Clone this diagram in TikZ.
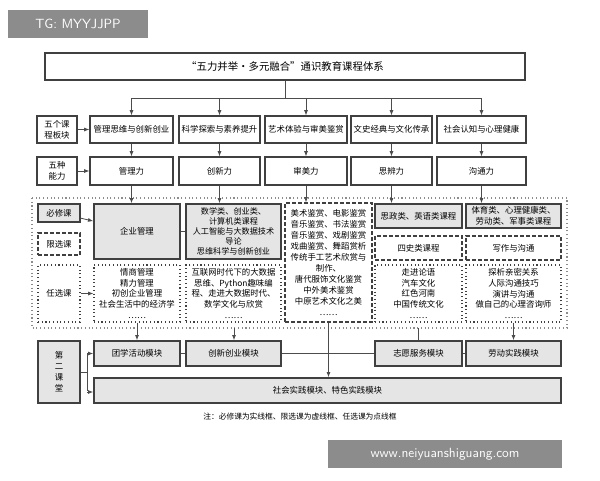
\documentclass[tikz,border=0pt]{standalone}
\usepackage{fontspec}
\setmainfont{Noto Sans CJK SC}
\usetikzlibrary{arrows.meta}
\newcommand\B[7][]{\node[box,#1,minimum width={(#5-#3)*0.75pt},minimum height={(#6-#4)*0.75pt},text width={(#5-#3)*0.75pt-4pt}] (#2) at ({(#3+#5)/2},{(#4+#6)/2}) {#7};}
\begin{document}
\begin{tikzpicture}[x=0.75pt,y=-0.75pt,
 box/.style={draw=black!75,line width=0.8pt,fill=white,align=center,inner sep=1pt,font=\fontsize{6.3}{8.2}\selectfont},
 sol/.style={fill=black!10,line width=1pt},
 dsh/.style={dash pattern=on 3pt off 1.5pt,line width=0.9pt},
 dot/.style={dotted,line width=0.8pt},
 ln/.style={draw=black!70,line width=0.6pt},
 ar/.style={ln,-{Latex[length=4pt,width=3pt]}}]
\useasboundingbox (0,0) rectangle (600,480);
\fill[black!45] (8,10) rectangle (148,38);
\node[text=white,font=\fontsize{10}{12}\selectfont\sffamily] (tg) at (78,24) {TG: MYYJJPP};
\fill[black!45] (328,440) rectangle (562,468);
\node[text=white,font=\fontsize{10}{12}\selectfont\sffamily] (www) at (445,454) {www.neiyuanshiguang.com};
% title
\B{title}{45}{53}{525}{80}{\fontsize{7.8}{9}\selectfont “五力并举•多元融合”通识教育课程体系}
% row1
\B{l1}{37}{116}{77}{143}{五个课\\程板块}
\B{a1}{90}{116}{173}{143}{管理思维与创新创业}
\B{a2}{179}{116}{260}{143}{科学探索与素养提升}
\B{a3}{265}{116}{347}{143}{艺术体验与审美鉴赏}
\B{a4}{351}{116}{432}{143}{文史经典与文化传承}
\B{a5}{437}{116}{526}{143}{社会认知与心理健康}
% row2
\B{l2}{37}{157}{77}{185}{五种\\能力}
\B{b1}{90}{157}{173}{185}{管理力}
\B{b2}{179}{157}{260}{185}{创新力}
\B{b3}{265}{157}{347}{185}{审美力}
\B{b4}{351}{157}{432}{185}{思辨力}
\B{b5}{437}{157}{526}{185}{沟通力}
% big dotted frame
\draw[black!45,dotted,line width=0.8pt] (32,198) rectangle (567,328);
\B[sol]{bx}{38}{204}{80}{222}{必修课}
\B[dsh]{xx}{38}{233}{80}{255}{限选课}
\B[dot]{rx}{38}{265}{80}{322}{任选课}
\B[sol]{c1}{94}{204}{180}{259}{企业管理}
\B[dot]{d1}{94}{265}{180}{322}{情商管理\\精力管理\\初创企业管理\\社会生活中的经济学\\……}
\B[sol,font=\fontsize{6.1}{7.5}\selectfont]{c2}{186}{204}{281}{259}{数学类、创业类、\\计算机类课程\\人工智能与大数据技术\\导论\\思维科学与创新创业}
\B[dot]{d2}{186}{265}{281}{322}{互联网时代下的大数据\\思维、Python趣味编\\程、走进大数据时代、\\数学文化与欣赏\\……}
\B[dsh]{c3}{285}{203}{372}{322}{美术鉴赏、电影鉴赏\\音乐鉴赏、书法鉴赏\\音乐鉴赏、戏剧鉴赏\\戏曲鉴赏、舞蹈赏析\\传统手工艺术欣赏与\\制作、\\唐代服饰文化鉴赏\\中外美术鉴赏\\中原艺术文化之美\\……}
\B[sol]{c4}{375}{204}{462}{228}{思政类、英语类课程}
\B[dsh]{e4}{375}{236}{462}{260}{四史类课程}
\B[dot]{d4}{375}{265}{462}{322}{走进论语\\汽车文化\\红色河南\\中国传统文化\\……}
\B[sol]{c5}{466}{204}{561}{228}{体育类、心理健康类、\\劳动类、军事类课程}
\B[dsh]{e5}{466}{236}{561}{260}{写作与沟通}
\B[dot]{d5}{466}{265}{561}{322}{探析亲密关系\\人际沟通技巧\\演讲与沟通\\做自己的心理咨询师\\……}
% second classroom
\B[sol]{dk}{38}{341}{80}{403}{第\\二\\课\\堂}
\B[sol]{m1}{94}{341}{180}{366}{团学活动模块}
\B[sol]{m2}{186}{341}{281}{366}{创新创业模块}
\B[sol]{m4}{375}{341}{462}{366}{志愿服务模块}
\B[sol]{m5}{466}{341}{561}{366}{劳动实践模块}
\B[sol]{sx}{94}{378}{561}{403}{社会实践模块、特色实践模块}
\node[font=\fontsize{5.8}{7}\selectfont] (note) at (300,417) {注：必修课为实线框、限选课为虚线框、任选课为点线框};
% connectors
\draw[ln] (title.south) -- (285,98) coordinate (h);
\draw[ln] (a1.north |- h) -- (a5.north |- h);
\foreach \n in {a1,a2,a3,a4,a5} \draw[ar] (\n.north |- h) -- (\n.north);
\foreach \n in {1,2,3,4,5} \draw[ar] (a\n) -- (b\n);
\draw[ar] (l1) -- (a1);
\draw[ar] (l2) -- (b1);
\draw[ar] (b1.south) -- (b1.south |- c1.north);
\draw[ar] (b2.south) -- (b2.south |- c2.north);
\draw[ar] (b3.south) -- (b3.south |- c3.north);
\draw[ar] (b4.south) -- (b4.south |- c4.north);
\draw[ar] (b5.south) -- (b5.south |- c5.north);
\draw[ar] (bx) -- (c1);
\draw[ar] (rx) -- (d1);
\draw[ln] (c1.east) -- (c2.west);
\draw[ln] (m1) -- (m2); \draw[ln] (m2) -- (m4); \draw[ln] (m4) -- (m5);
\draw[ar] (d1.south) -- (d1.south |- m1.north);
\draw[ar] (234,328) coordinate (p2) -- (p2 |- m2.north);
\draw[ar] (c3.south) -- (c3.south |- sx.north);
\draw[ln] (418,328) coordinate (p4) -- (p4 |- m4.north);
\draw[ar] (d5.south) -- (d5.south |- m5.north);
\draw[ln] (dk.east) -- (87,372) coordinate (v);
\draw[ln] (v |- m1.west) -- (v |- sx.west);
\draw[ar] (v |- m1.west) -- (m1.west);
\draw[ar] (v |- 0,392) -- (sx.west |- 0,392);
\end{tikzpicture}
\end{document}
